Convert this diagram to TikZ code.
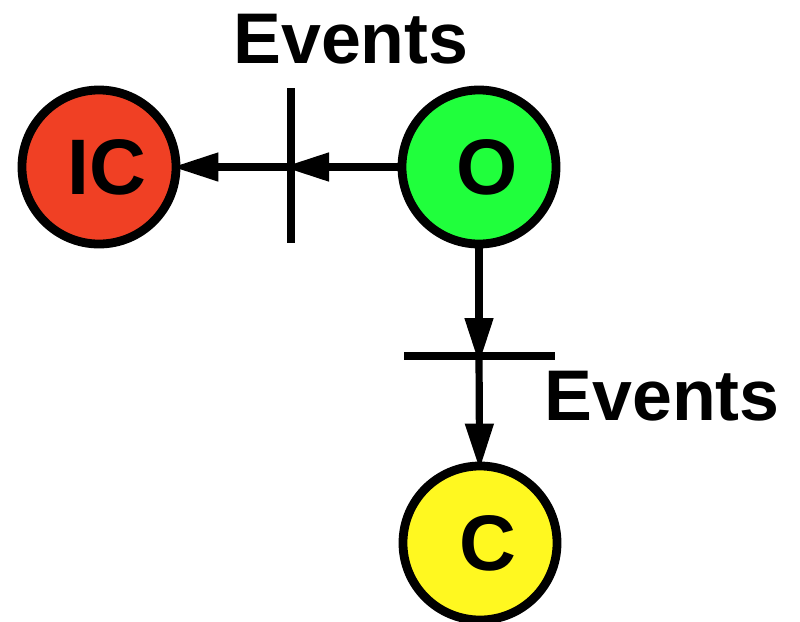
\documentclass[tikz,border=0pt]{standalone}
\usepackage{fontspec}
\setmainfont{Liberation Sans}
\usetikzlibrary{arrows.meta}

\definecolor{icred}{RGB}{240,64,36}
\definecolor{ogreen}{RGB}{32,255,60}
\definecolor{cyellow}{RGB}{255,248,32}

\begin{document}
\begin{tikzpicture}[x=0.025cm,y=-0.025cm,
    estado/.style={circle,draw=black,line width=0.22cm,minimum size=3.85cm,
      inner sep=0pt,font=\fontsize{56}{60}\selectfont\bfseries},
    flecha/.style={line width=0.18cm,shorten >=-0.2cm,
      -{Triangle[length=1.15cm,width=0.68cm]}},
    barra/.style={line width=0.2cm},
    etiqueta/.style={anchor=base,font=\fontsize{51}{56}\selectfont\bfseries}]
  \useasboundingbox (0,0) rectangle (800,621);

  % Estados
	\node[estado,fill=icred] (IC) at (99,167) {\hspace*{0.4cm}IC};
	\node[estado,fill=ogreen] (O) at (479,167) {\hspace*{0.4cm}O};
	\node[estado,fill=cyellow] (C) at (480,543) {\hspace*{0.4cm}C};

  % Cruces
	\coordinate (eh) at (291,167);
	\coordinate (ev) at (479,356);

  % Flechas
	\draw[flecha] (O) -- (eh);
	\draw[flecha] (eh) -- (IC);
	\draw[flecha] (O) -- (ev);
	\draw[flecha] (ev) -- (C);

  % Barras
	\draw[barra] (eh) ++(0,-79) -- ++(0,155);
	\draw[barra] (ev) ++(-75,0) -- ++(151,0);

  % Textos
	\node[etiqueta] (ev1) at (351,63) {Events};
	\node[etiqueta] (ev2) at (662,420) {Events};
\end{tikzpicture}
\end{document}
